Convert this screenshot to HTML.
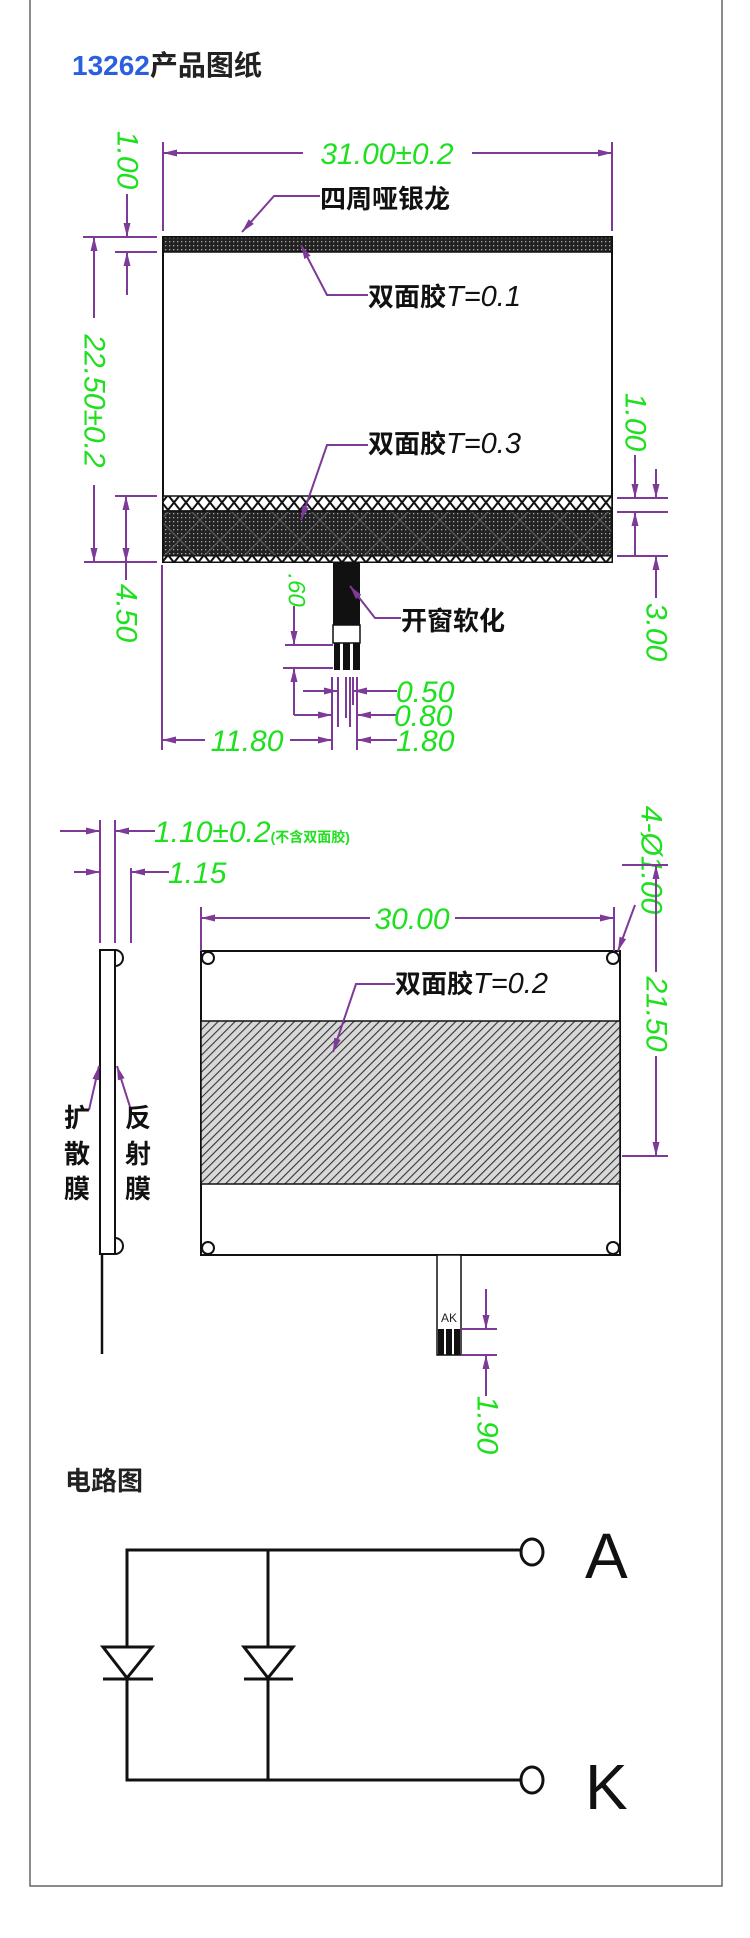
<!DOCTYPE html>
<html><head><meta charset="utf-8"><style>
html,body{margin:0;padding:0;background:#fff;}
svg{display:block;}
.g{fill:#1ee01e;font-family:"Liberation Sans",sans-serif;font-style:italic;font-size:30px;}
.lb{fill:#111;font-family:"Liberation Sans","Noto Sans CJK SC",sans-serif;font-size:26px;font-weight:bold;}
.it{font-style:italic;font-weight:normal;}
.p{stroke:#7d3a96;stroke-width:2;fill:none;}
.k{stroke:#111;stroke-width:2;fill:none;}
</style></head><body>
<svg width="750" height="1938" viewBox="0 0 750 1938" xmlns="http://www.w3.org/2000/svg">
<defs>
<marker id="a" viewBox="0 0 14 8" refX="14" refY="4" markerWidth="14" markerHeight="8" markerUnits="userSpaceOnUse" orient="auto-start-reverse"><path d="M0,0.5 L14,4 L0,7.5 z" fill="#7d3a96"/></marker>
<pattern id="dots" width="4" height="4" patternUnits="userSpaceOnUse"><rect width="4" height="4" fill="#222"/><rect x="1" y="1" width="1.3" height="1.3" fill="#aaa"/></pattern>
<pattern id="xx" width="24" height="15" patternUnits="userSpaceOnUse"><rect width="24" height="15" fill="#fff"/><path d="M0,0 L12,15 M12,0 L24,15 M12,0 L0,15 M24,0 L12,15" stroke="#111" stroke-width="2"/></pattern>
<pattern id="dk" width="40" height="40" patternUnits="userSpaceOnUse"><rect width="40" height="40" fill="url(#dots)"/><path d="M0,0 L40,40 M40,0 L0,40" stroke="#555" stroke-width="1.5"/></pattern>
<pattern id="hat" width="6" height="6" patternUnits="userSpaceOnUse" patternTransform="rotate(45)"><rect width="6" height="6" fill="#d8d8d8"/><line x1="0" y1="0" x2="0" y2="6" stroke="#333" stroke-width="2.2"/></pattern>
</defs>

<!-- page border -->
<path d="M30,0 V1886 H722 V0" fill="none" stroke="#666" stroke-width="1.5"/>

<!-- title -->
<text x="72" y="75" style="font-family:'Liberation Sans','Noto Sans CJK SC',sans-serif;font-size:28px;font-weight:bold"><tspan fill="#2a5fe0">13262</tspan><tspan fill="#222">产品图纸</tspan></text>

<!-- ===== Top view ===== -->
<rect x="163" y="237" width="449" height="325" fill="#fff" stroke="#111" stroke-width="2"/>
<rect x="163" y="237" width="449" height="15" fill="url(#dots)" stroke="#111" stroke-width="1.5"/>
<rect x="163" y="496" width="449" height="15" fill="url(#xx)" stroke="#111" stroke-width="1.5"/>
<rect x="163" y="511" width="449" height="45" fill="url(#dk)" stroke="#111" stroke-width="1.5"/>
<rect x="163" y="556" width="449" height="6" fill="url(#xx)" stroke="#111" stroke-width="1"/>

<!-- 31.00 -->
<line class="p" x1="163" y1="142" x2="163" y2="231"/>
<line class="p" x1="612" y1="142" x2="612" y2="231"/>
<line class="p" x1="303" y1="153" x2="163" y2="153" marker-end="url(#a)"/>
<line class="p" x1="472" y1="153" x2="612" y2="153" marker-end="url(#a)"/>
<text class="g" x="387" y="164" text-anchor="middle">31.00±0.2</text>

<!-- left 1.00 -->
<line class="p" x1="83" y1="237" x2="157" y2="237"/>
<line class="p" x1="115" y1="252" x2="157" y2="252"/>
<line class="p" x1="127" y1="194" x2="127" y2="237" marker-end="url(#a)"/>
<line class="p" x1="127" y1="295" x2="127" y2="252" marker-end="url(#a)"/>
<text class="g" transform="translate(127,160) rotate(90)" text-anchor="middle" dominant-baseline="central">1.00</text>

<!-- 22.50 -->
<line class="p" x1="94" y1="318" x2="94" y2="237" marker-end="url(#a)"/>
<line class="p" x1="94" y1="485" x2="94" y2="562" marker-end="url(#a)"/>
<text class="g" transform="translate(94,401) rotate(90)" text-anchor="middle" dominant-baseline="central">22.50±0.2</text>

<!-- 4.50 -->
<line class="p" x1="115" y1="496" x2="157" y2="496"/>
<line class="p" x1="84" y1="562" x2="157" y2="562"/>
<line class="p" x1="126" y1="530" x2="126" y2="496" marker-end="url(#a)"/>
<line class="p" x1="126" y1="530" x2="126" y2="562" marker-end="url(#a)"/>
<line class="p" x1="126" y1="562" x2="126" y2="580"/>
<text class="g" transform="translate(126,613) rotate(90)" text-anchor="middle" dominant-baseline="central">4.50</text>

<!-- right dims -->
<line class="p" x1="617" y1="498" x2="668" y2="498"/>
<line class="p" x1="617" y1="512" x2="668" y2="512"/>
<line class="p" x1="617" y1="556" x2="668" y2="556"/>
<line class="p" x1="635" y1="455" x2="635" y2="498" marker-end="url(#a)"/>
<line class="p" x1="635" y1="556" x2="635" y2="512" marker-end="url(#a)"/>
<line class="p" x1="656" y1="469" x2="656" y2="498" marker-end="url(#a)"/>
<line class="p" x1="656" y1="598" x2="656" y2="556" marker-end="url(#a)"/>
<text class="g" transform="translate(635,422) rotate(90)" text-anchor="middle" dominant-baseline="central">1.00</text>
<text class="g" transform="translate(656,632) rotate(90)" text-anchor="middle" dominant-baseline="central">3.00</text>

<!-- labels -->
<polyline class="p" points="320,196 274,196 242,232" marker-end="url(#a)"/>
<text class="lb" x="320" y="208">四周哑银龙</text>
<polyline class="p" points="368,295 327,295 301,245" marker-end="url(#a)"/>
<text class="lb" x="368" y="306">双面胶<tspan class="it" style="font-family:'Liberation Sans',sans-serif;font-size:29px">T=0.1</tspan></text>
<polyline class="p" points="368,445 327,445 301,520" marker-end="url(#a)"/>
<text class="lb" x="368" y="453">双面胶<tspan class="it" style="font-family:'Liberation Sans',sans-serif;font-size:29px">T=0.3</tspan></text>

<!-- tab -->
<rect x="333" y="562" width="27" height="63" fill="#111"/>
<rect x="333" y="625" width="27" height="18" fill="#fff" stroke="#111" stroke-width="1.5"/>
<rect x="334" y="643" width="6" height="27" fill="#111"/>
<rect x="343" y="643" width="7" height="27" fill="#111"/>
<rect x="353" y="643" width="7" height="27" fill="#111"/>
<polyline class="p" points="401,618 375,618 350,586" marker-end="url(#a)"/>
<text class="lb" x="401" y="630">开窗软化</text>

<!-- 1.60 -->
<text class="g" style="font-size:24px" transform="translate(296,590) rotate(90)" text-anchor="middle" dominant-baseline="central">.60</text>
<line class="p" x1="294" y1="606" x2="294" y2="645" marker-end="url(#a)"/>
<line class="p" x1="285" y1="645" x2="333" y2="645"/>
<line class="p" x1="283" y1="668" x2="333" y2="668"/>
<line class="p" x1="294" y1="715" x2="294" y2="668" marker-end="url(#a)"/>
<line class="p" x1="294" y1="715" x2="332" y2="715" marker-end="url(#a)"/>
<line class="p" x1="303" y1="691" x2="338" y2="691" marker-end="url(#a)"/>
<line class="p" x1="332" y1="677" x2="332" y2="750"/>
<line class="p" x1="338" y1="677" x2="338" y2="727"/>
<line class="p" x1="346" y1="677" x2="346" y2="718"/>
<line class="p" x1="350" y1="677" x2="350" y2="727"/>
<line class="p" x1="353" y1="677" x2="353" y2="705"/>
<line class="p" x1="357" y1="677" x2="357" y2="750"/>
<line class="p" x1="162" y1="565" x2="162" y2="750"/>
<line class="p" x1="205" y1="740" x2="162" y2="740" marker-end="url(#a)"/>
<line class="p" x1="290" y1="740" x2="332" y2="740" marker-end="url(#a)"/>
<text class="g" x="247" y="751" text-anchor="middle">11.80</text>
<line class="p" x1="397" y1="691" x2="353" y2="691" marker-end="url(#a)"/>
<line class="p" x1="397" y1="715" x2="357" y2="715" marker-end="url(#a)"/>
<line class="p" x1="397" y1="740" x2="357" y2="740" marker-end="url(#a)"/>
<text class="g" x="396" y="702">0.50</text>
<text class="g" x="394" y="726">0.80</text>
<text class="g" x="396" y="751">1.80</text>

<!-- ===== Side view ===== -->
<line class="p" x1="100" y1="820" x2="100" y2="943"/>
<line class="p" x1="115" y1="820" x2="115" y2="943"/>
<line class="p" x1="131" y1="868" x2="131" y2="943"/>
<line class="p" x1="60" y1="831" x2="100" y2="831" marker-end="url(#a)"/>
<line class="p" x1="155" y1="831" x2="115" y2="831" marker-end="url(#a)"/>
<text class="g" x="154" y="842">1.10±0.2<tspan style="font-size:14px;font-style:normal;font-weight:bold;font-family:'Liberation Sans','Noto Sans CJK SC',sans-serif">(不含双面胶)</tspan></text>
<line class="p" x1="74" y1="872" x2="100" y2="872" marker-end="url(#a)"/>
<line class="p" x1="169" y1="872" x2="131" y2="872" marker-end="url(#a)"/>
<text class="g" x="168" y="883">1.15</text>
<rect x="100" y="950" width="15" height="304" fill="#fff" stroke="#111" stroke-width="2"/>
<path d="M115,950 A8,8 0 0 1 115,966 M115,1238 A8,8 0 0 1 115,1254" class="k"/>
<line class="k" x1="102" y1="1254" x2="102" y2="1354" style="stroke-width:2.5"/>
<polyline class="p" points="89,1110 99,1066" marker-end="url(#a)"/>
<polyline class="p" points="131,1110 117,1066" marker-end="url(#a)"/>
<text class="lb" x="77" y="1127" text-anchor="middle">扩</text>
<text class="lb" x="77" y="1163" text-anchor="middle">散</text>
<text class="lb" x="77" y="1198" text-anchor="middle">膜</text>
<text class="lb" x="138" y="1127" text-anchor="middle">反</text>
<text class="lb" x="138" y="1163" text-anchor="middle">射</text>
<text class="lb" x="138" y="1198" text-anchor="middle">膜</text>

<!-- ===== Front view ===== -->
<rect x="201" y="951" width="419" height="304" fill="#fff" stroke="#111" stroke-width="2"/>
<rect x="201" y="1021" width="419" height="163" fill="url(#hat)" stroke="#111" stroke-width="1.5"/>
<circle cx="208" cy="958" r="6" class="k"/>
<circle cx="613" cy="958" r="6" class="k"/>
<circle cx="208" cy="1248" r="6" class="k"/>
<circle cx="613" cy="1248" r="6" class="k"/>
<line class="p" x1="201" y1="907" x2="201" y2="951"/>
<line class="p" x1="614" y1="907" x2="614" y2="951"/>
<line class="p" x1="370" y1="918" x2="201" y2="918" marker-end="url(#a)"/>
<line class="p" x1="455" y1="918" x2="614" y2="918" marker-end="url(#a)"/>
<text class="g" x="412" y="929" text-anchor="middle">30.00</text>
<polyline class="p" points="395,984 356,984 333,1052" marker-end="url(#a)"/>
<text class="lb" x="395" y="993">双面胶<tspan class="it" style="font-family:'Liberation Sans',sans-serif;font-size:29px">T=0.2</tspan></text>
<text class="g" transform="translate(651,860) rotate(90)" text-anchor="middle" dominant-baseline="central">4-Ø1.00</text>
<line class="p" x1="635" y1="905" x2="618" y2="951" marker-end="url(#a)"/>
<line class="p" x1="622" y1="865" x2="668" y2="865"/>
<line class="p" x1="622" y1="1156" x2="668" y2="1156"/>
<line class="p" x1="656" y1="972" x2="656" y2="865" marker-end="url(#a)"/>
<line class="p" x1="656" y1="1056" x2="656" y2="1156" marker-end="url(#a)"/>
<text class="g" transform="translate(656,1014) rotate(90)" text-anchor="middle" dominant-baseline="central">21.50</text>
<rect x="437" y="1255" width="24" height="100" fill="#fff" stroke="#111" stroke-width="1.5"/>
<text x="449" y="1322" text-anchor="middle" style="font-family:'Liberation Sans',sans-serif;font-size:12px;fill:#222">AK</text>
<rect x="438" y="1329" width="6" height="26" fill="#111"/>
<rect x="446" y="1329" width="6" height="26" fill="#111"/>
<rect x="454" y="1329" width="6" height="26" fill="#111"/>
<line class="p" x1="461" y1="1329" x2="497" y2="1329"/>
<line class="p" x1="461" y1="1355" x2="497" y2="1355"/>
<line class="p" x1="486" y1="1289" x2="486" y2="1329" marker-end="url(#a)"/>
<line class="p" x1="486" y1="1396" x2="486" y2="1355" marker-end="url(#a)"/>
<text class="g" transform="translate(487,1425) rotate(90)" text-anchor="middle" dominant-baseline="central">1.90</text>

<!-- ===== Circuit ===== -->
<text x="65" y="1490" style="font-family:'Liberation Sans','Noto Sans CJK SC',sans-serif;font-size:26px;font-weight:bold;fill:#222">电路图</text>
<g stroke="#111" stroke-width="3" fill="none">
<polyline points="520,1550 127,1550 127,1647"/>
<line x1="268" y1="1550" x2="268" y2="1647"/>
<polyline points="127,1679 127,1780 520,1780"/>
<line x1="268" y1="1679" x2="268" y2="1780"/>
<path d="M103,1647 H152 L127,1678 Z"/>
<line x1="103" y1="1679" x2="153" y2="1679"/>
<path d="M244,1647 H293 L268,1678 Z"/>
<line x1="244" y1="1679" x2="293" y2="1679"/>
<ellipse cx="532" cy="1552" rx="11" ry="13"/>
<ellipse cx="532" cy="1780" rx="11" ry="13"/>
</g>
<text x="585" y="1578" style="font-family:'Liberation Sans',sans-serif;font-size:64px;fill:#111">A</text>
<text x="585" y="1809" style="font-family:'Liberation Sans',sans-serif;font-size:64px;fill:#111">K</text>
</svg>
</body></html>
